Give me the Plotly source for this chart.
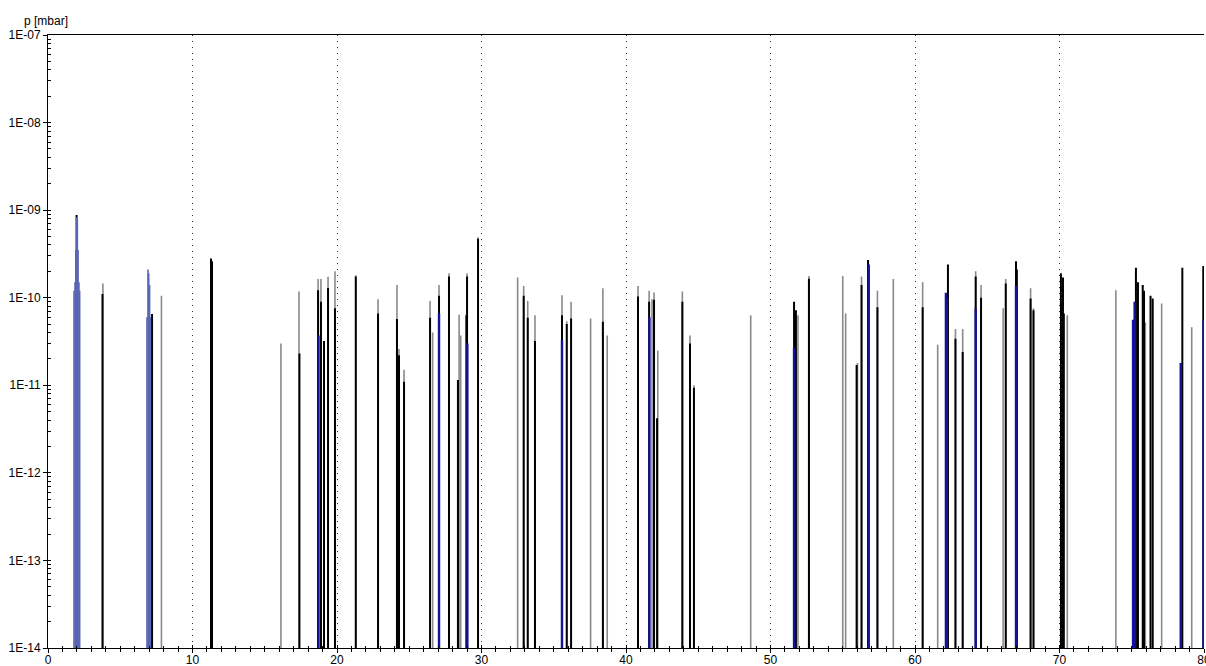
import plotly.graph_objects as go

# ---------------- data ----------------
# Outer (gray) scan
gray_mass = [3.80, 7.85, 16.12, 17.37, 18.69, 18.89, 19.38, 19.86, 21.30, 22.84,
             24.15, 24.29, 24.64, 26.44, 26.62, 27.06, 27.75, 28.45, 28.56, 29.00,
             29.76, 32.50, 32.92, 33.20, 33.70, 35.57, 35.90, 36.20, 37.55, 38.40,
             38.70, 40.83, 41.60, 41.80, 41.94, 42.20, 43.90, 44.43, 44.70, 48.63,
             51.90, 52.66, 55.00, 55.20, 56.02, 56.30, 57.40, 58.50, 60.53, 61.57,
             62.80, 63.30, 64.20, 64.57, 66.10, 66.28, 68.00, 68.20, 70.54, 73.90,
             75.94, 77.07, 79.15]
gray_p = [1.45e-10, 1.05e-10, 3.0e-11, 1.18e-10, 1.64e-10, 1.64e-10, 1.73e-10, 2.0e-10, 1.8e-10, 9.6e-11,
          1.4e-10, 2.6e-11, 1.5e-11, 9.2e-11, 4.0e-11, 1.4e-10, 1.9e-10, 6.4e-11, 3.7e-11, 1.9e-10,
          4.9e-10, 1.7e-10, 1.36e-10, 9.2e-11, 6.3e-11, 1.07e-10, 5.4e-11, 9.0e-11, 5.8e-11, 1.28e-10,
          3.7e-11, 1.36e-10, 1.2e-10, 9.6e-11, 1.15e-10, 2.5e-11, 1.18e-10, 3.7e-11, 1.0e-11, 6.3e-11,
          6.3e-11, 1.77e-10, 1.77e-10, 6.6e-11, 1.8e-11, 1.75e-10, 1.2e-10, 1.64e-10, 1.5e-10, 2.9e-11,
          4.4e-11, 4.4e-11, 2.0e-10, 1.4e-10, 7.6e-11, 1.64e-10, 1.28e-10, 7.6e-11, 6.3e-11, 1.22e-10,
          5.2e-11, 8.6e-11, 4.6e-11]

# Black scan
black_mass = [1.98, 3.77, 7.20, 11.28, 11.35, 17.40, 18.69, 18.89, 19.10, 19.38,
              19.86, 21.30, 22.84, 24.15, 24.29, 24.64, 26.44, 27.06, 27.75, 28.37,
              28.95, 29.00, 29.76, 32.92, 33.20, 33.70, 35.57, 35.90, 36.20, 38.40,
              40.83, 41.60, 41.94, 42.15, 43.90, 44.43, 44.70, 51.63, 51.76, 52.66,
              55.96, 56.30, 56.75, 57.40, 60.53, 62.28, 62.80, 63.30, 64.20, 64.57,
              66.28, 66.99, 67.05, 68.00, 68.20, 70.10, 70.17, 70.24, 70.30, 75.29,
              75.43, 75.76, 75.85, 76.30, 76.45, 78.50, 79.95]
black_p = [8.8e-10, 1.1e-10, 6.5e-11, 2.8e-10, 2.6e-10, 2.3e-11, 1.22e-10, 9.0e-11, 3.2e-11, 1.29e-10,
           7.6e-11, 1.75e-10, 6.6e-11, 5.7e-11, 2.2e-11, 1.1e-11, 5.9e-11, 1.05e-10, 1.75e-10, 1.15e-11,
           6.3e-11, 1.75e-10, 4.7e-10, 1.05e-10, 5.9e-11, 3.2e-11, 6.3e-11, 5.0e-11, 5.8e-11, 5.3e-11,
           1.03e-10, 9.0e-11, 9.5e-11, 4.2e-12, 9.0e-11, 3.0e-11, 9.4e-12, 9.0e-11, 7.2e-11, 1.65e-10,
           1.7e-11, 1.4e-10, 2.7e-10, 7.8e-11, 7.8e-11, 2.4e-10, 3.4e-11, 2.4e-11, 1.75e-10, 1.0e-10,
           1.45e-10, 2.6e-10, 2.1e-10, 9.8e-11, 7.2e-11, 1.9e-10, 7.6e-11, 1.7e-10, 6.6e-11, 2.2e-10,
           1.5e-10, 1.4e-10, 1.2e-10, 1.05e-10, 9.8e-11, 2.2e-10, 2.3e-10]

# Blue scan
blue_mass = [18.72, 27.06, 29.02, 35.57, 41.62, 51.63, 56.80, 62.14, 62.20, 64.20,
             66.99, 75.09, 75.20, 78.39, 79.97]
blue_p = [3.7e-11, 6.6e-11, 3.0e-11, 3.3e-11, 6.0e-11, 2.7e-11, 2.4e-10, 1.14e-10, 1.0e-10, 7.5e-11,
          1.36e-10, 5.6e-11, 9.0e-11, 1.8e-11, 5.6e-11]

# Hatched blue peaks (masses 2 and 7)
peak_mass = [1.80, 1.87, 1.93, 1.98, 2.03, 2.08, 2.14, 2.19,
             6.85, 6.92, 6.97, 7.03, 7.08]
peak_p = [1.2e-10, 1.5e-10, 3.5e-10, 8.3e-10, 7.5e-10, 3.5e-10, 1.5e-10, 1.2e-10,
          6.0e-11, 2.1e-10, 1.9e-10, 1.4e-10, 6.0e-11]

x_tick_vals = [0, 10, 20, 30, 40, 50, 60, 70, 80]
x_tick_text = ["0", "10", "20", "30", "40", "50", "60", "70", "80"]
y_tick_vals = [1e-14, 1e-13, 1e-12, 1e-11, 1e-10, 1e-09, 1e-08, 1e-07]
y_tick_text = ["1E-14", "1E-13", "1E-12", "1E-11", "1E-10", "1E-09", "1E-08", "1E-07"]
y_label = "p [mbar]"

# ---------------- figure ----------------
y_floor = y_tick_vals[0]


def stems(masses, values):
    xs, ys = [], []
    for m, v in zip(masses, values):
        xs += [m, m, None]
        ys += [y_floor, v, None]
    return xs, ys


fig = go.Figure()
series = [
    (gray_mass, gray_p, "#8a8a8a", 1.6),
    (black_mass, black_p, "#000000", 2.0),
    (blue_mass, blue_p, "#12129c", 2.4),
    (peak_mass, peak_p, "#5a66b4", 1.6),
]
for m, v, c, w in series:
    xs, ys = stems(m, v)
    fig.add_trace(go.Scatter(x=xs, y=ys, mode="lines", line=dict(color=c, width=w),
                             hoverinfo="skip", showlegend=False))

# invisible traces to carry the overlay axes (crossing ticks)
fig.add_trace(go.Scatter(x=[None], y=[None], xaxis="x2", yaxis="y", showlegend=False))
fig.add_trace(go.Scatter(x=[None], y=[None], xaxis="x", yaxis="y2", showlegend=False))

minor_y = [k * 10.0 ** e for e in range(-14, -7) for k in range(2, 10)]

font = dict(family="Arial, Liberation Sans, sans-serif", size=12, color="#000000")

fig.update_layout(
    width=1206, height=666,
    margin=dict(l=48, r=2, t=35, b=18),
    paper_bgcolor="white", plot_bgcolor="white",
    font=font,
    xaxis=dict(
        range=[0, 80], tickvals=x_tick_vals, ticktext=x_tick_text,
        showline=True, linecolor="black", linewidth=1, mirror=True,
        ticks="outside", ticklen=4, tickcolor="black", tickwidth=1,
        minor=dict(ticks="outside", ticklen=3, dtick=1, tickcolor="black", showgrid=False),
        showgrid=True, gridcolor="#303030", gridwidth=1, griddash="1px,5px",
        zeroline=False, automargin=False, tickfont=font,
        ticklabelstandoff=-3, ticklabeloverflow="allow",
    ),
    xaxis2=dict(
        overlaying="x", anchor="y", side="bottom", range=[0, 80],
        tickvals=x_tick_vals, showticklabels=False,
        ticks="inside", ticklen=3, tickcolor="black",
        minor=dict(ticks="inside", ticklen=2, dtick=1, tickcolor="black"),
        showgrid=False, showline=False, zeroline=False, automargin=False,
    ),
    yaxis=dict(
        type="log", range=[-14, -7], tickvals=y_tick_vals, ticktext=y_tick_text,
        showline=True, linecolor="black", linewidth=1,
        ticks="outside", ticklen=4, tickcolor="black",
        minor=dict(ticks="inside", ticklen=3, tickvals=minor_y, tickcolor="black", showgrid=False),
        showgrid=False, zeroline=False, automargin=False, tickfont=font,
        ticklabeloverflow="allow",
    ),
    yaxis2=dict(
        overlaying="y", anchor="x", side="left", type="log", range=[-14, -7],
        tickvals=y_tick_vals, showticklabels=False,
        ticks="inside", ticklen=3, tickcolor="black",
        showgrid=False, showline=False, zeroline=False, automargin=False,
    ),
    annotations=[dict(
        text=y_label, xref="paper", yref="paper", x=-0.0225, y=1.0228,
        xanchor="left", yanchor="middle", showarrow=False, font=font,
    )],
)

fig.write_html(
    "out.html",
    config={"responsive": False, "displayModeBar": False},
    post_script="document.body.style.margin='0px';document.body.style.overflow='hidden';",
)
